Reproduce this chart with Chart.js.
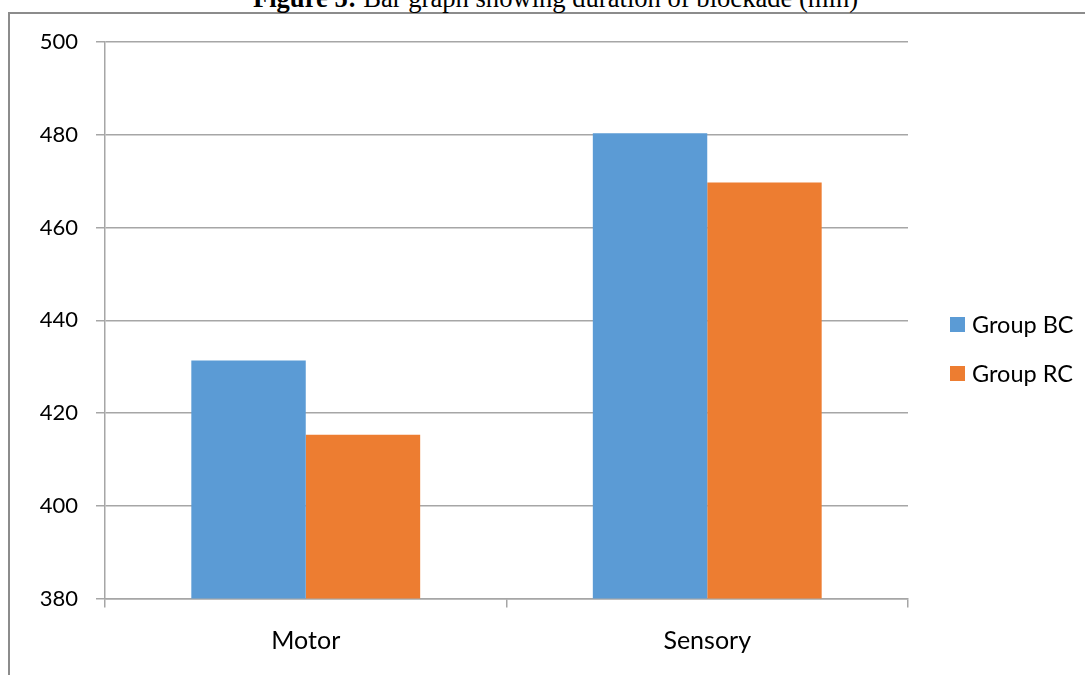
<!DOCTYPE html>
<html>
<head>
<meta charset="utf-8">
<script src="https://cdn.jsdelivr.net/npm/chart.js@4/dist/chart.umd.min.js"></script>
<style>
  html, body { margin: 0; padding: 0; background: #fff; overflow: hidden; }
  #wrap { position: relative; width: 1085px; height: 675px; }
  #frame { position: absolute; left: 8px; top: 12px; width: 1100px; height: 700px;
           border: 2px solid #8c8c8c; box-sizing: border-box; }
  #title { position: absolute; top: -15px; left: 0; width: 1111px; text-align: center;
           font-family: "Liberation Serif", "Times New Roman", serif; font-size: 26.6px;
           line-height: 26.6px; color: #000; white-space: nowrap; }
  #title b { font-weight: bold; }
  canvas { position: absolute; left: 0; top: 0; }
</style>
</head>
<body>
<div id="wrap">
  <div id="frame"></div>
  <div id="title"><b>Figure 5:</b> Bar graph showing duration of blockade (min)</div>
  <canvas id="c" width="1085" height="675"></canvas>
</div>
<script>
// Duration of blockade in minutes, by block type and group
const categories = ['Motor', 'Sensory'];
const groupBC = [431.3, 480.3];
const groupRC = [415.3, 469.7];
const seriesNames = ['Group BC', 'Group RC'];
const seriesColors = ['#5B9BD5', '#ED7D31'];
const yTicks = [380, 400, 420, 440, 460, 480, 500];

const FONT = 'Lato, "Open Sans", sans-serif';
const GRID = '#a6a6a6';

// Legend drawn beside the plot, stacked vertically
const sideLegend = {
  id: 'sideLegend',
  afterDraw(chart) {
    const ctx = chart.ctx;
    ctx.save();
    ctx.font = '23.5px ' + FONT;
    ctx.textBaseline = 'middle';
    chart.data.datasets.forEach((ds, i) => {
      const y = 324.5 + i * 49;
      ctx.fillStyle = ds.backgroundColor;
      ctx.fillRect(950, y - 7.5, 15, 15);
      ctx.fillStyle = '#000';
      ctx.fillText(ds.label, 972, y + 1);
    });
    ctx.restore();
  }
};

new Chart(document.getElementById('c'), {
  type: 'bar',
  data: {
    labels: categories,
    datasets: [
      { label: seriesNames[0], data: groupBC, backgroundColor: seriesColors[0] },
      { label: seriesNames[1], data: groupRC, backgroundColor: seriesColors[1] }
    ]
  },
  options: {
    responsive: false,
    animation: false,
    devicePixelRatio: 1,
    layout: { padding: { left: 0, right: 177, top: 42, bottom: 0 } },
    datasets: { bar: { categoryPercentage: 0.57, barPercentage: 1.0 } },
    plugins: {
      legend: { display: false },
      title: { display: false },
      tooltip: { enabled: false }
    },
    scales: {
      x: {
        grid: { display: true, drawOnChartArea: false, drawTicks: true, tickLength: 9,
                color: GRID, lineWidth: 1.5, offset: true },
        border: { display: true, color: GRID, width: 1.5 },
        ticks: { font: { family: FONT, size: 25 }, color: '#000', padding: 18 },
        afterFit(scale) { scale.height = 675 - 598.5; }
      },
      y: {
        min: 380, max: 500,
        afterBuildTicks(scale) { scale.ticks = yTicks.map(v => ({ value: v })); },
        grid: { color: GRID, lineWidth: 1.5, drawTicks: true, tickLength: 9 },
        border: { display: true, color: GRID, width: 1.5 },
        ticks: { font: { family: FONT, size: 22 }, color: '#000', padding: 18 },
        afterFit(scale) { scale.width = 105; }
      }
    }
  },
  plugins: [sideLegend]
});
</script>
</body>
</html>
